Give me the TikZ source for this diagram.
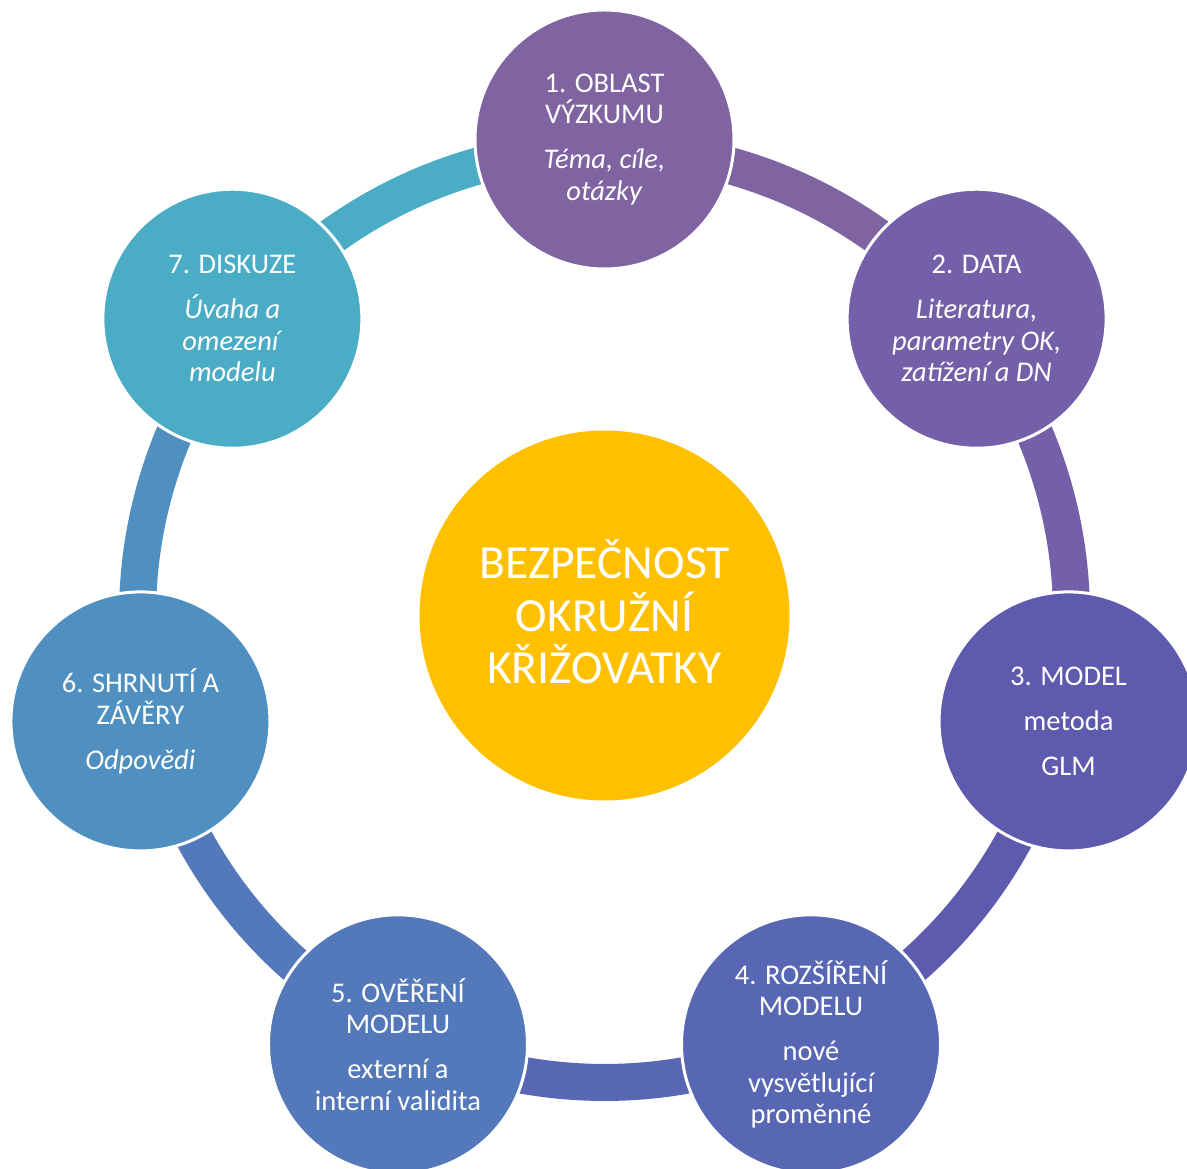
\documentclass[tikz,border=0pt]{standalone}
\usepackage{fontspec}
\setmainfont{Carlito}
\usetikzlibrary{calc,backgrounds}

% stage colours, purple through blue to aqua
\definecolor{stepA}{HTML}{8064A2}
\definecolor{stepB}{HTML}{7460A8}
\definecolor{stepC}{HTML}{5E5BAE}
\definecolor{stepD}{HTML}{5767B4}
\definecolor{stepE}{HTML}{5379BA}
\definecolor{stepF}{HTML}{4F90C0}
\definecolor{stepG}{HTML}{4BACC6}
\definecolor{hubyellow}{HTML}{FFC000}

\begin{document}
\begin{tikzpicture}[x=1pt,y=1pt,
  stage/.style={circle, minimum size=259pt, inner sep=0pt,
    draw=white, line width=3pt, text=white, align=center,
    font=\fontsize{28.5}{31.5}\selectfont},
  hub/.style={circle, fill=hubyellow, minimum size=370pt, inner sep=0pt,
    text=white, align=center, text depth=7pt,
    font=\fontsize{47.5}{52.5}\selectfont},
  band/.style={line width=37pt, line cap=butt}]

\useasboundingbox (-604.5,615.5) rectangle (582.5,-553.5);
\coordinate (O) at (0,0);

% central topic
\node[hub] (hub) at (O) {BEZPEČNOST\\OKRUŽNÍ\\KŘIŽOVATKY};

% the seven stages around the ring
\node[stage, fill=stepA] (n1) at (90:476)
  {1. OBLAST\\VÝZKUMU\\[13.5pt]\textit{Téma, cíle,}\\\textit{otázky}};
\node[stage, fill=stepB] (n2) at (38.5714:476)
  {2. DATA\\[13.5pt]\textit{Literatura,}\\\textit{parametry OK,}\\\textit{zatížení a DN}};
\node[stage, fill=stepC] (n3) at (-12.8571:476)
  {3. MODEL\\[13.5pt]metoda\\[13.5pt]GLM};
\node[stage, fill=stepD] (n4) at (-64.2857:476)
  {4. ROZŠÍŘENÍ\\MODELU\\[13.5pt]nové\\vysvětlující\\proměnné};
\node[stage, fill=stepE] (n5) at (-115.7143:476)
  {5. OVĚŘENÍ\\MODELU\\[13.5pt]externí a\\interní validita};
\node[stage, fill=stepF] (n6) at (-167.1429:476)
  {6. SHRNUTÍ A\\ZÁVĚRY\\[13.5pt]\textit{Odpovědi}};
\node[stage, fill=stepG] (n7) at (141.4286:476)
  {7. DISKUZE\\[13.5pt]\textit{Úvaha a}\\\textit{omezení}\\\textit{modelu}};

% ring bands joining each stage to the next, behind the circles
\foreach \i in {1,...,7} {
  \coordinate (r\i) at ($(O)!0.98109!(n\i.center)$);
}
\begin{scope}[on background layer]
  \draw[band, stepA] (r1) arc[start angle=90,        delta angle=-51.4286, radius=467pt];
  \draw[band, stepB] (r2) arc[start angle=38.5714,   delta angle=-51.4286, radius=467pt];
  \draw[band, stepC] (r3) arc[start angle=-12.8571,  delta angle=-51.4286, radius=467pt];
  \draw[band, stepD] (r4) arc[start angle=-64.2857,  delta angle=-51.4286, radius=467pt];
  \draw[band, stepE] (r5) arc[start angle=-115.7143, delta angle=-51.4286, radius=467pt];
  \draw[band, stepF] (r6) arc[start angle=-167.1429, delta angle=-51.4286, radius=467pt];
  \draw[band, stepG] (r7) arc[start angle=141.4286,  delta angle=-51.4286, radius=467pt];
\end{scope}
\end{tikzpicture}
\end{document}
